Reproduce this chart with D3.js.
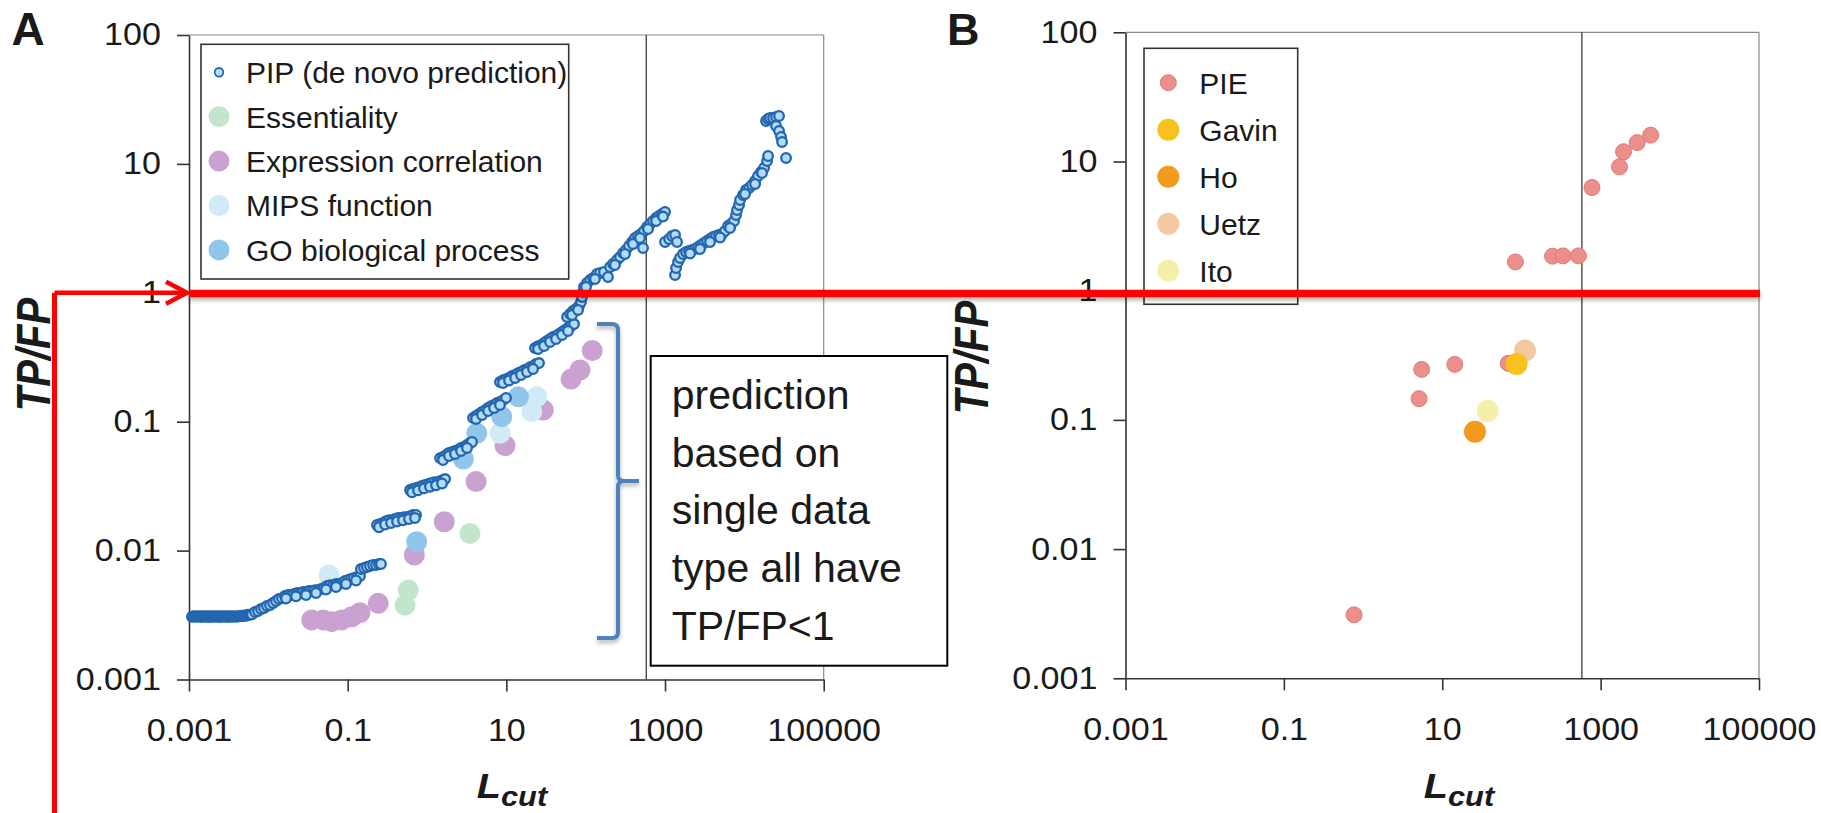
<!DOCTYPE html>
<html><head><meta charset="utf-8">
<script src="https://cdn.jsdelivr.net/npm/d3@7"></script>
<style>
body{margin:0;background:#fff;}
svg{display:block;}
text{font-family:"Liberation Sans",Arial,Helvetica,sans-serif;fill:#1a1a1a;}
</style></head><body>
<svg id="chart" width="1821" height="813"></svg>
<script>
// ---------------- DATA ----------------
const xTickValues = [0.001, 0.1, 10, 1000, 100000];
const xTickLabels = ["0.001", "0.1", "10", "1000", "100000"];
const yTickValues = [0.001, 0.01, 0.1, 1, 10, 100];
const yTickLabels = ["0.001", "0.01", "0.1", "1", "10", "100"];
const lcutThreshold = 580;   // vertical reference line (L_cut)
const ratioThreshold = 1;    // TP/FP = 1 (red line)

// Panel A
const legendA = ["PIP (de novo prediction)", "Essentiality", "Expression correlation", "MIPS function", "GO biological process"];
const pipPoints = [
  [0.00109,0.00307],[0.00114,0.0031],[0.00119,0.00307],[0.00125,0.0031],[0.0013,0.00307],[0.00136,0.0031],[0.00142,0.00305],
  [0.00148,0.0031],[0.00155,0.00307],[0.00162,0.0031],[0.00169,0.00307],[0.00176,0.0031],[0.00184,0.00305],[0.00192,0.0031],
  [0.00201,0.00307],[0.0021,0.0031],[0.00219,0.00307],[0.00229,0.0031],[0.00239,0.00305],[0.0025,0.0031],[0.00261,0.00307],
  [0.00272,0.0031],[0.00284,0.00307],[0.00297,0.0031],[0.0031,0.00305],[0.00324,0.0031],[0.00338,0.00307],[0.00353,0.0031],
  [0.00369,0.00307],[0.00386,0.0031],[0.00403,0.00307],[0.00421,0.0031],[0.0044,0.0031],[0.0046,0.00312],[0.0048,0.0031],
  [0.00502,0.00314],[0.00524,0.00312],[0.00547,0.00318],[0.0057,0.00316],[0.00596,0.0032],[0.00622,0.0032],
  [0.00679,0.00334],[0.00741,0.0034],[0.00809,0.00352],[0.00881,0.00359],[0.00962,0.00372],[0.0105,0.00378],[0.01146,0.00392],
  [0.0125,0.00406],[0.0136,0.00421],[0.01486,0.00428],[0.0162,0.00444],[0.0177,0.00452],[0.0193,0.00452],[0.0211,0.0046],
  [0.023,0.00469],[0.0251,0.00469],[0.0274,0.00477],[0.0299,0.00477],[0.0326,0.00486],[0.0355,0.00486],[0.0387,0.00494],
  [0.0423,0.00494],[0.0461,0.00504],[0.0503,0.00513],[0.0549,0.00531],[0.0599,0.0054],[0.0653,0.0054],[0.0713,0.0055],
  [0.0778,0.0055],[0.0849,0.0056],[0.0925,0.00581],[0.101,0.00592],[0.11,0.00602],[0.12,0.00613],[0.131,0.00624],[0.143,0.00635],
  [0.0167,0.00425],[0.0223,0.00442],[0.0298,0.00452],[0.0399,0.00469],[0.0533,0.00499],[0.0713,0.00522],[0.0953,0.00551],[0.1274,0.00586],
  [0.147,0.0072],[0.161,0.00733],[0.175,0.00746],[0.191,0.0076],[0.209,0.00773],[0.228,0.00773],[0.248,0.00787],[0.263,0.00787],
  [0.234,0.0158],[0.256,0.0161],[0.279,0.0164],[0.304,0.0169],[0.332,0.0172],[0.362,0.0172],[0.395,0.0176],[0.431,0.0179],
  [0.47,0.0179],[0.513,0.0182],[0.56,0.0182],[0.611,0.0185],[0.667,0.0189],[0.727,0.0189],
  [0.248,0.01517],[0.296,0.01594],[0.352,0.01637],[0.419,0.01681],[0.498,0.01718],[0.593,0.01758],[0.706,0.0179],
  [0.611,0.0295],[0.667,0.0301],[0.727,0.0306],[0.793,0.0311],[0.865,0.0317],[0.944,0.0323],[1.03,0.0328],[1.12,0.0334],
  [1.23,0.034],[1.34,0.034],[1.46,0.0346],[1.59,0.0353],[1.69,0.0359],
  [0.647,0.02833],[0.77,0.02931],[0.917,0.03038],[1.09,0.03131],[1.299,0.03211],[1.546,0.03315],
  [1.46,0.0522],[1.59,0.0532],[1.74,0.0552],[1.89,0.0572],[2.07,0.0582],[2.25,0.0592],[2.46,0.0603],[2.68,0.0625],
  [2.93,0.0636],[3.19,0.0659],[3.48,0.0683],[3.69,0.0696],
  [1.592,0.05045],[1.894,0.05419],[2.254,0.05616],[2.683,0.05926],[3.193,0.06252],
  [3.8,0.107],[4.15,0.111],[4.53,0.115],[4.94,0.119],[5.39,0.123],[5.88,0.128],[6.41,0.132],[7.0,0.135],[7.63,0.14],
  [8.32,0.142],[9.08,0.147],[9.91,0.153],
  [4.15,0.105],[4.94,0.1127],[5.88,0.1211],[7.0,0.1277],[8.32,0.1348],
  [8.32,0.203],[9.08,0.21],[9.91,0.214],[10.8,0.218],[11.8,0.226],[12.9,0.23],[14.0,0.238],[15.3,0.243],[16.7,0.251],
  [18.2,0.256],[19.9,0.265],[21.7,0.27],[23.7,0.28],[25.8,0.285],
  [9.08,0.1996],[10.8,0.2088],[12.9,0.2183],[15.3,0.2303],[18.2,0.243],[21.7,0.2564],
  [23.0,0.373],[25.1,0.386],[27.4,0.393],[29.9,0.408],[32.6,0.423],[35.5,0.438],[38.8,0.454],[42.3,0.462],[46.1,0.479],
  [50.4,0.496],[54.9,0.514],[59.9,0.533],[65.4,0.552],[71.3,0.572],
  [25.1,0.3664],[29.9,0.3866],[35.5,0.4152],[42.3,0.4381],[50.4,0.4705],[59.9,0.5052],
  [58.2,0.649],[63.5,0.685],[69.2,0.722],[75.5,0.749],[82.4,0.79],[87.3,0.848],[89.9,0.928],[92.6,1.014],[95.3,1.109],
  [104,1.191],[114,1.257],[124,1.302],[139,1.399],[152,1.424],[170,1.45],[191,1.326],[203,1.586],[221,1.674],[248,1.797],
  [271,1.896],[296,2.036],[322,2.152],[352,2.307],[384,2.478],[419,2.661],[457,2.759],[499,2.859],[528,2.227],[544,3.016],
  [593,3.24],[647,3.418],[706,3.606],[771,3.804],[841,3.942],[917,4.085],[1000,4.236],
  [67.3,0.6726],[80.1,0.7358],[101,1.109],[131,1.279],[234,1.643],[313,2.0],[395,2.391],[484,2.661],[611,3.126],[771,3.606],[944,3.906],
  [1000,2.478],[1124,2.615],[1226,2.759],[1338,2.808],[1418,2.478],[1338,1.374],[1378,1.557],[1459,1.734],[1546,1.862],
  [1687,2.0],[1841,2.073],[2009,2.11],[2191,2.152],[2390,2.187],[2608,2.266],[2845,2.349],[3104,2.434],[3386,2.528],
  [3694,2.615],[4030,2.713],[4397,2.759],[4797,2.808],[5234,2.859],[5710,3.016],[6229,3.298],[6796,3.418],[7414,3.606],
  [7857,4.015],[8089,4.389],[8575,4.799],[8827,5.248],[9627,5.738],[10500,6.274],[11460,6.502],[12500,6.861],[13640,7.367],
  [14880,8.056],[16230,8.655],[17710,9.295],[19320,10.53],[19890,11.52],
  [2067,2.018],[2763,2.187],[3694,2.478],[4939,2.685],[6601,3.182],[10200,5.842],[13640,6.985],[16710,8.5],
  [18770,21.52],[19890,22.3],[21080,22.7],[23000,22.7],[25090,23.11],[27370,23.53],[25090,19.68],[27370,18.0],
  [29010,16.17],[29870,14.79],[33540,11.11]
];
const expressionPoints = [[0.0352,0.0029],[0.0493,0.0029],[0.0629,0.00281],[0.0841,0.0029],[0.1125,0.00307],[0.143,0.0033],
  [0.243,0.0039],[0.692,0.00925],[1.65,0.01675],[4.15,0.0343],[9.62,0.0652],[29.2,0.1233],[65.3,0.214],[84.9,0.252],[121,0.356]];
const essentialityPoints = [[0.528,0.00378],[0.581,0.00494],[3.48,0.0136]];
const mipsPoints = [[0.0582,0.00647],[8.32,0.0813],[20.9,0.1197],[24.2,0.156]];
const goPoints = [[0.741,0.01172],[2.87,0.0514],[4.24,0.0813],[8.75,0.1094],[14.2,0.156]];

// Panel B
const legendB = ["PIE", "Gavin", "Ho", "Uetz", "Ito"];
const piePoints = [[0.77,0.0031],[5.1,0.146],[5.5,0.246],[14.4,0.269],[68,0.274],[84,1.67],[247,1.85],[335,1.86],[524,1.86],
  [778,6.29],[1730,9.1],[1950,11.9],[2897,14.0],[4285,16.0]];
const gavinPoints = [[87,0.271]];
const hoPoints = [[25.9,0.081]];
const uetzPoints = [[111,0.344]];
const itoPoints = [[37.5,0.117]];

const annotationLines = ["prediction", "based on", "single data", "type all have", "TP/FP<1"];

// ---------------- DRAWING ----------------
const svg = d3.select("#chart");
const defs = svg.append("defs");
const f = defs.append("filter").attr("id","shadow").attr("filterUnits","userSpaceOnUse")
  .attr("x",0).attr("y",0).attr("width",1821).attr("height",813);
f.append("feDropShadow").attr("dx",0).attr("dy",3).attr("stdDeviation",2).attr("flood-color","#000").attr("flood-opacity",0.3);

const styleA = {
  pip: {fill:"#b3dbf5", stroke:"#2266b0", r:4.8, sw:2.3},
  ess: {fill:"#c3e5cb", r:10.5},
  expr:{fill:"#c9a2d2", r:10.5},
  mips:{fill:"#d0eaf6", r:10.5},
  go:  {fill:"#90c6ec", r:10.5}
};
const styleB = {
  pie:  {fill:"#ec8e8a", stroke:"#e07c78", r:8},
  gavin:{fill:"#f8c21c", r:11},
  ho:   {fill:"#f39b1e", r:11},
  uetz: {fill:"#f3c9a3", r:11},
  ito:  {fill:"#f6efa9", r:11}
};
const legendPip = {fill:"#b8ddf5", stroke:"#2467b0", r:4.3, sw:1.8};
const tickStretch = 1.1;

function makePanel(box) {
  const x = d3.scaleLog().domain([0.001, 100000]).range([box.left, box.right]);
  const y = d3.scaleLog().domain([0.001, 100]).range([box.bottom, box.top]);
  const g = svg.append("g");
  g.append("line").attr("x1",box.left).attr("x2",box.right).attr("y1",box.top).attr("y2",box.top).attr("stroke","#8a8a8a").attr("stroke-width",1.2);
  g.append("line").attr("x1",box.right).attr("x2",box.right).attr("y1",box.top).attr("y2",box.bottom).attr("stroke","#8a8a8a").attr("stroke-width",1.2);
  g.append("line").attr("x1",x(lcutThreshold)).attr("x2",x(lcutThreshold)).attr("y1",box.top).attr("y2",box.bottom).attr("stroke","#3a3a3a").attr("stroke-width",1.3);
  const ax = g.append("g").attr("transform",`translate(0,${box.bottom})`)
    .call(d3.axisBottom(x).tickValues(xTickValues).tickFormat((d,i)=>xTickLabels[i]).tickSize(12).tickSizeOuter(0).tickPadding(28));
  const ay = g.append("g").attr("transform",`translate(${box.left},0)`)
    .call(d3.axisLeft(y).tickValues(yTickValues).tickFormat((d,i)=>yTickLabels[i]).tickSize(12).tickSizeOuter(0).tickPadding(16));
  [ax, ay].forEach(a => {
    a.select(".domain").attr("stroke","#333").attr("stroke-width",1.6);
    a.selectAll(".tick line").attr("stroke","#333").attr("stroke-width",1.6);
    a.selectAll(".tick text").attr("font-size",31).attr("fill","#1a1a1a")
      .attr("font-family","'Liberation Sans',Arial,sans-serif");
  });
  ax.selectAll(".tick text").attr("transform",`scale(${tickStretch},1)`);
  ay.selectAll(".tick text").attr("x",0).attr("transform",`translate(-28,0) scale(${tickStretch},1)`);
  return {x, y, g};
}

const boxA = {left:189, right:823.7, top:35, bottom:679.5};
const boxB = {left:1125.5, right:1759, top:32.3, bottom:678.3};
const A = makePanel(boxA);
const B = makePanel(boxB);

function dots(P, data, st) {
  P.g.append("g").selectAll("circle").data(data).join("circle")
    .attr("cx", d => P.x(d[0])).attr("cy", d => P.y(d[1])).attr("r", st.r)
    .attr("fill", st.fill).attr("stroke", st.stroke || "none").attr("stroke-width", st.sw || 1);
}
dots(A, expressionPoints, styleA.expr);
dots(A, essentialityPoints, styleA.ess);
dots(A, mipsPoints, styleA.mips);
dots(A, goPoints, styleA.go);
dots(A, pipPoints, styleA.pip);

dots(B, piePoints, styleB.pie);
dots(B, uetzPoints, styleB.uetz);
dots(B, itoPoints, styleB.ito);
dots(B, hoPoints, styleB.ho);
dots(B, gavinPoints, styleB.gavin);

// Legends
function legend(box, labels, styles, opts) {
  const g = svg.append("g");
  g.append("rect").attr("x",box.x).attr("y",box.y).attr("width",box.w).attr("height",box.h)
    .attr("fill","#fff").attr("stroke","#333").attr("stroke-width",1.6);
  labels.forEach((lab,i) => {
    const cy = opts.y0 + i*opts.dy;
    const st = styles[i];
    g.append("circle").attr("cx",opts.sx).attr("cy",cy).attr("r",st.r).attr("fill",st.fill)
      .attr("stroke",st.stroke||"none").attr("stroke-width",st.sw||1);
    g.append("text").attr("x",opts.tx).attr("y",cy+10.8).attr("font-size",30).text(lab);
  });
}
legend({x:201,y:44.3,w:367.7,h:234.7}, legendA,
  [legendPip, styleA.ess, styleA.expr, styleA.mips, styleA.go], {y0:72.3, dy:44.4, sx:219, tx:246});
legend({x:1144,y:48.3,w:153.7,h:256}, legendB,
  [styleB.pie, styleB.gavin, styleB.ho, styleB.uetz, styleB.ito], {y0:82.7, dy:47, sx:1168.3, tx:1199.3});

// Axis titles
function xTitle(cx) {
  const t = svg.append("text").attr("transform",`translate(${cx},798) scale(1.1,1)`).attr("text-anchor","middle")
    .attr("font-weight","bold").attr("font-style","italic");
  t.append("tspan").attr("font-size",36).text("L");
  t.append("tspan").attr("font-size",28).attr("dy",8).text("cut");
}
xTitle(512); xTitle(1459);
function yTitle(bx, cy) {
  svg.append("text").attr("transform",`translate(${bx},${cy}) scale(1.22,1) rotate(-90)`).attr("text-anchor","middle")
    .attr("font-size",40).attr("font-weight","bold").attr("font-style","italic").text("TP/FP");
}
yTitle(50, 354.5); yTitle(988, 357.5);

// Panel letters
svg.append("text").attr("x",11.5).attr("y",45).attr("font-size",46).attr("font-weight","bold").text("A");
svg.append("text").attr("x",947).attr("y",45).attr("font-size",45).attr("font-weight","bold").text("B");

// Annotation: bracket + box
svg.append("path").attr("d","M597,324 L612,324 Q618,324 618,330 L618,475 Q618,481 624,481 L639,481 M624,481 Q618,481 618,487 L618,632 Q618,638 612,638 L597,638")
  .attr("fill","none").attr("stroke","#4f81bd").attr("stroke-width",4).attr("filter","url(#shadow)");
svg.append("rect").attr("x",650.7).attr("y",356).attr("width",296.6).attr("height",309.7)
  .attr("fill","#fff").attr("stroke","#000").attr("stroke-width",2);
annotationLines.forEach((s,i) => {
  svg.append("text").attr("x",671.7).attr("y",409 + i*57.7).attr("font-size",41)
    .attr("font-family","'Open Sans', Lato, sans-serif").attr("fill","#000").text(s);
});

// Red threshold marker (TP/FP = 1)
const yOne = A.y(ratioThreshold);
const red = svg.append("g").attr("stroke","#ff0000").attr("fill","none");
red.append("line").attr("x1",54.5).attr("x2",54.5).attr("y1",yOne).attr("y2",813).attr("stroke-width",5);
red.append("line").attr("x1",54.5).attr("x2",184).attr("y1",yOne).attr("y2",yOne).attr("stroke-width",4.5);
red.append("polyline").attr("points",`166,${yOne-11} 187,${yOne} 166,${yOne+11}`).attr("stroke-width",4.5);
red.append("line").attr("x1",boxA.left).attr("x2",boxB.right+1).attr("y1",yOne+0.7).attr("y2",yOne+0.7)
  .attr("stroke-width",7.5).attr("filter","url(#shadow)");
</script>
</body></html>
